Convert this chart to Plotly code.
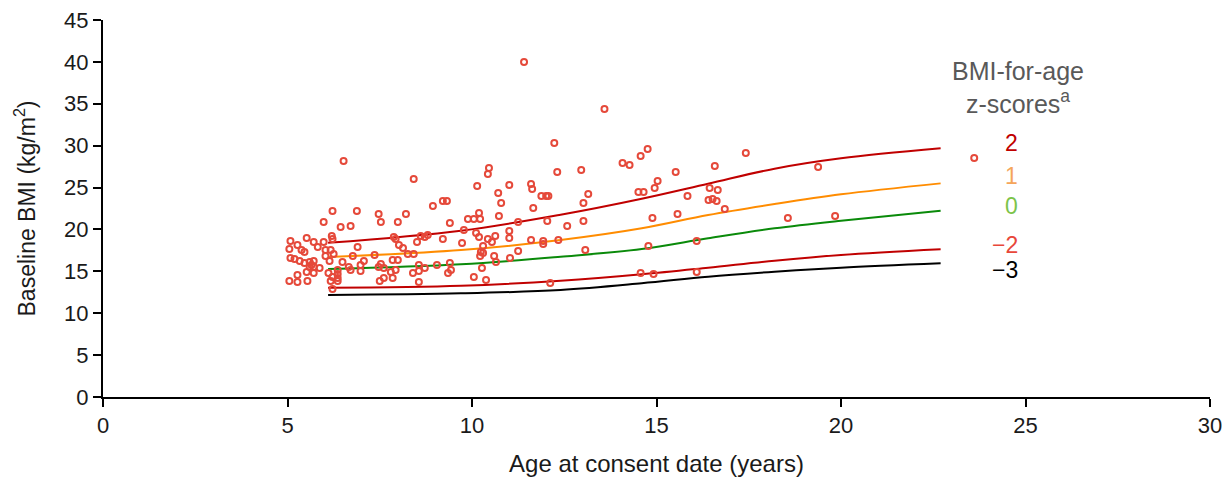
import plotly.graph_objects as go

# Participants: age at consent (years) and baseline BMI (kg/m2)
ages = [5.08, 5.05, 5.27, 5.52, 5.71, 5.82, 5.98, 6.20, 6.22, 5.38, 5.46, 6.03, 6.17, 6.25, 6.90,
        5.08, 5.19, 5.33, 5.46, 5.60, 5.71, 5.65, 5.87, 5.60, 5.71, 5.52, 6.03, 6.14, 6.49, 6.77,
        7.07, 6.98, 6.11, 6.36, 6.36, 6.22, 6.36, 6.66, 6.71, 6.98, 5.71, 5.27, 5.05, 5.27, 5.54,
        6.17, 6.36, 6.22, 7.36, 7.53, 7.47, 7.85, 7.99, 7.61, 7.80, 7.93, 7.61, 7.50, 7.85,
        6.52, 6.22, 6.88, 5.98, 6.44, 6.71, 7.47, 7.53, 7.99, 7.88, 7.93, 8.02, 8.13,
        8.26, 8.42, 8.56, 8.56, 8.72, 8.40, 9.05, 9.40, 9.35, 9.43, 8.56, 8.61, 8.72, 8.80, 9.21,
        8.51, 9.73, 9.78, 9.40, 8.42, 8.94, 9.21, 9.32, 8.21, 9.89, 10.05, 10.22, 10.19, 10.73,
        10.46, 10.43, 10.14, 11.01, 10.71, 10.79, 10.11, 10.19, 10.63, 11.01, 11.01, 10.43, 11.25,
        11.25, 10.30, 10.54, 10.24, 10.30, 10.22, 10.60, 10.65, 11.03, 10.27, 10.05, 10.38,
        11.41, 13.59, 12.23, 12.31, 12.96, 14.08, 14.27, 14.57, 14.76, 11.60, 11.63, 11.88, 12.01,
        12.07, 13.15, 13.02, 11.66, 12.04, 12.58, 13.02, 14.51, 14.65, 14.95, 15.03, 14.89, 11.60,
        11.93, 11.93, 12.34, 13.07, 14.78, 12.12, 14.57, 14.92,
        17.42, 15.52, 16.58, 16.44, 16.66, 15.84, 16.41, 16.52, 16.63, 16.85, 15.57, 16.09, 16.09,
        19.38, 18.56, 19.84, 23.61]
bmi = [18.62, 17.66, 18.14, 18.97, 18.50, 17.90, 18.50, 19.21, 18.85, 17.54, 17.30, 17.54, 17.54, 17.06, 17.90,
       16.59, 16.47, 16.23, 15.99, 16.11, 16.23, 15.75, 15.39, 15.51, 15.51, 14.92, 16.83, 16.23, 16.11, 16.83,
       16.23, 15.75, 14.80, 15.16, 14.68, 14.32, 14.20, 15.51, 15.16, 15.04, 14.80, 14.56, 13.84, 13.72, 13.84,
       13.84, 13.84, 12.89, 16.95, 15.87, 15.51, 16.35, 16.35, 15.39, 14.92, 15.16, 14.20, 13.84, 14.20,
       28.16, 22.20, 22.20, 20.88, 20.29, 20.41, 21.84, 20.88, 20.88, 19.09, 18.85, 18.14, 17.78,
       17.06, 17.06, 15.75, 15.04, 15.39, 14.80, 15.75, 15.99, 14.80, 15.16, 13.72, 19.21, 19.09, 19.33, 18.85,
       18.50, 18.38, 19.93, 20.76, 26.01, 22.79, 23.39, 23.39, 21.84, 21.24, 21.24, 21.24, 21.96, 21.60,
       27.33, 26.61, 25.18, 25.30, 24.34, 23.15, 19.57, 19.09, 19.21, 19.81, 18.97, 18.85, 20.88,
       17.42, 18.02, 18.50, 17.30, 17.18, 16.83, 16.83, 16.11, 16.59, 15.39, 14.32, 13.96,
       39.98, 34.37, 30.31, 26.85, 27.09, 27.92, 27.68, 28.76, 29.59, 25.42, 24.82, 23.99, 23.99,
       23.99, 24.22, 23.15, 22.55, 21.00, 20.41, 21.00, 24.46, 24.46, 24.94, 25.78, 21.36, 18.74,
       18.62, 18.26, 18.74, 17.54, 18.02, 13.60, 14.80, 14.68,
       29.12, 26.85, 27.57, 24.94, 24.70, 23.99, 23.51, 23.63, 23.39, 22.43, 21.84, 18.62, 14.92,
       27.45, 21.36, 21.60, 28.52]

# Reference BMI-for-age z-score curves
curve_ages = [6.1, 9.7, 12.4, 14.6, 16.4, 18.2, 20.0, 22.7]
z_plus2 = [18.4, 19.85, 21.76, 23.67, 25.46, 27.25, 28.49, 29.68]
z_plus1 = [16.7, 17.54, 18.73, 20.13, 21.72, 23.03, 24.19, 25.50]
z_zero = [15.27, 15.84, 16.74, 17.66, 18.94, 20.13, 21.04, 22.23]
z_minus2 = [13.04, 13.28, 13.88, 14.64, 15.43, 16.27, 16.95, 17.63]
z_minus3 = [12.17, 12.37, 12.77, 13.57, 14.36, 14.95, 15.43, 15.96]

curve_names = ["2", "1", "0", "\u22122", "\u22123"]
curve_values = [z_plus2, z_plus1, z_zero, z_minus2, z_minus3]
line_colors = ["#C00000", "#FF8C00", "#0A8A0A", "#C00000", "#000000"]
label_colors = ["#C00000", "#F5A55A", "#7CC44A", "#E8473A", "#000000"]
label_y = [30.3, 26.4, 22.8, 18.1, 15.2]

FONT = "Liberation Sans, Arial, sans-serif"

fig = go.Figure()
for name, vals, col in zip(curve_names, curve_values, line_colors):
    fig.add_trace(go.Scatter(x=curve_ages, y=vals, mode="lines", name=name,
                             line=dict(color=col, width=2, shape="spline"),
                             hoverinfo="skip"))

fig.add_trace(go.Scatter(x=ages, y=bmi, mode="markers", name="Participants",
                         marker=dict(symbol="circle-open", size=6, color="#E5493A",
                                     line=dict(width=2, color="#E5493A"))))

for name, col, yv in zip(curve_names, label_colors, label_y):
    fig.add_annotation(x=24.85, y=yv, xref="x", yref="y", text=name, showarrow=False,
                       font=dict(size=23, color=col, family=FONT),
                       xanchor="right", yanchor="middle")

fig.add_annotation(x=24.8, y=36.9, xref="x", yref="y",
                   text="BMI-for-age<br>z-scores<sup>a</sup>", showarrow=False,
                   font=dict(size=25, color="#595959", family=FONT),
                   xanchor="center", yanchor="middle", align="center")

def axis_style():
    return dict(showline=True, linecolor="black", linewidth=2, ticks="outside",
                ticklen=8, tickwidth=2, tickcolor="black", showgrid=False, zeroline=False,
                automargin=False,
                tickfont=dict(size=22, color="#1a1a1a", family=FONT))

fig.update_layout(
    width=1227, height=479,
    margin=dict(l=103, r=17, t=20, b=82),
    plot_bgcolor="white", paper_bgcolor="white",
    showlegend=False,
    font=dict(family=FONT, color="#1a1a1a"),
    xaxis=dict(range=[0, 30], tickvals=[0, 5, 10, 15, 20, 25, 30],
               title=dict(text="Age at consent date (years)", font=dict(size=24, family=FONT), standoff=18),
               **axis_style()),
    yaxis=dict(range=[0, 45], tickvals=list(range(0, 46, 5)),
               title=dict(text="Baseline BMI (kg/m<sup>2</sup>)", font=dict(size=23, family=FONT), standoff=22),
               **axis_style()),
)

fig.write_html("out.html", config={"displayModeBar": False},
               post_script="document.body.style.margin='0';document.body.style.overflow='hidden';")
